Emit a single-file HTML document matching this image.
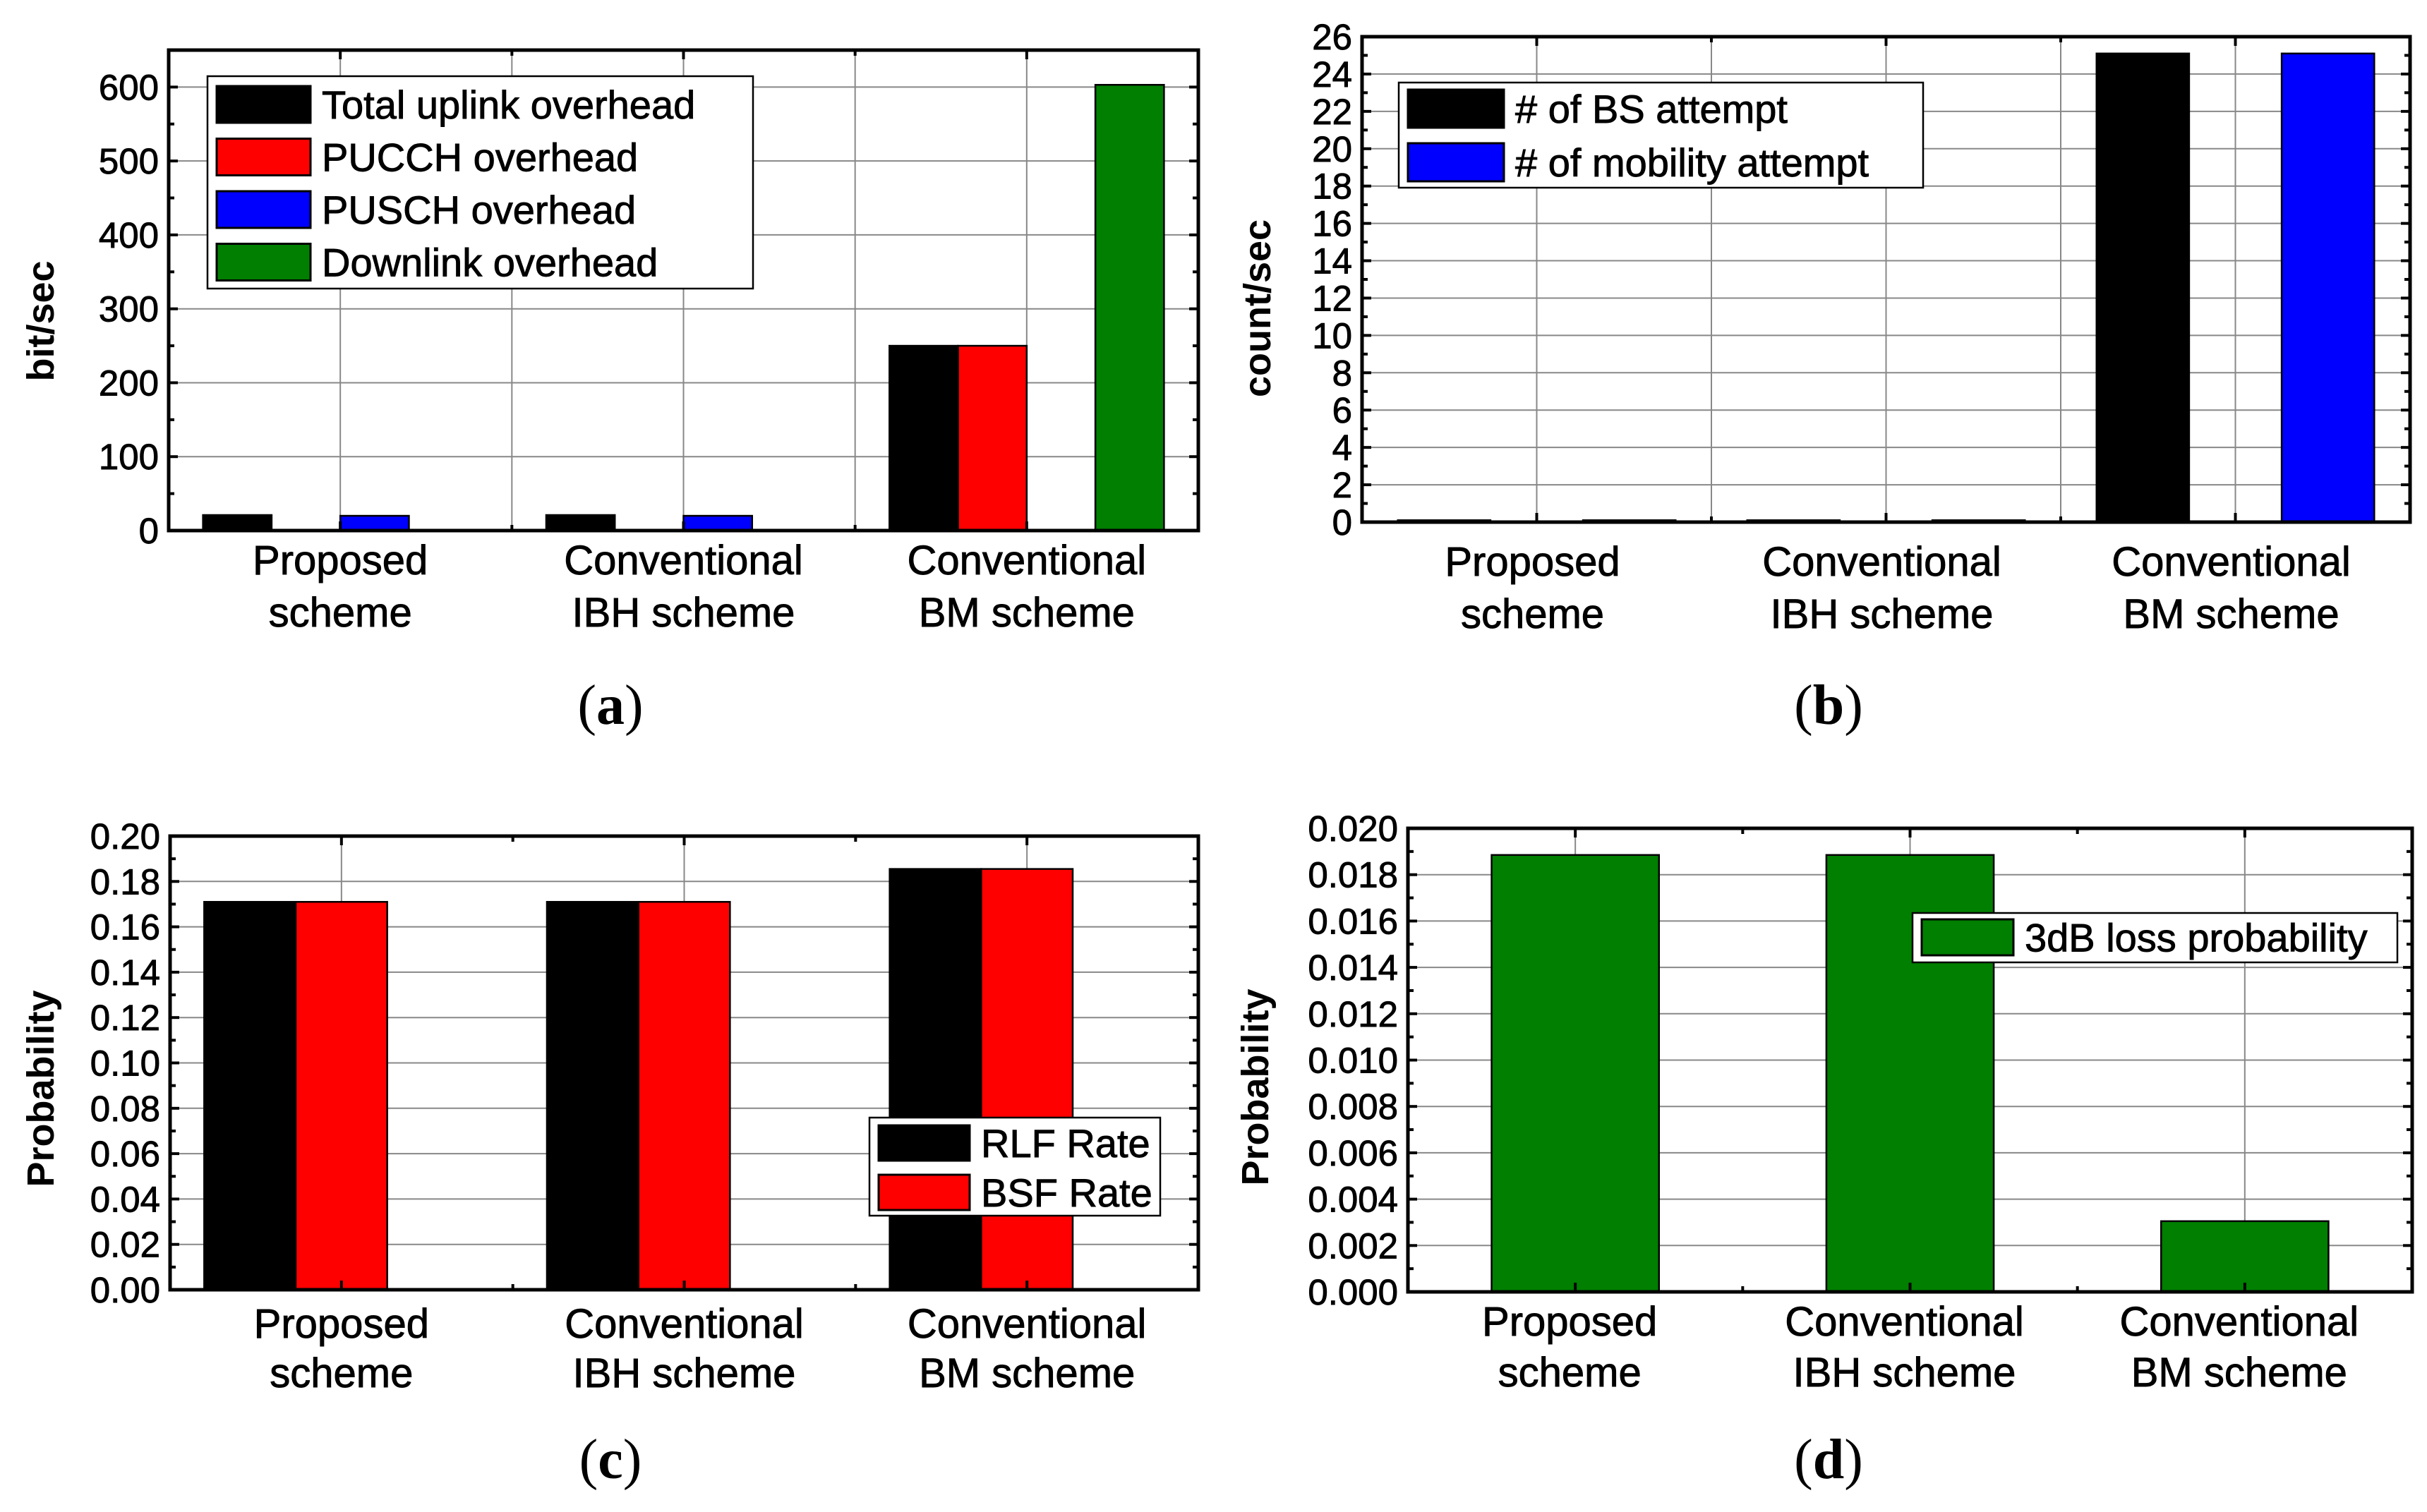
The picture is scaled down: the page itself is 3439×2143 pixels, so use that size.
<!DOCTYPE html>
<html><head><meta charset="utf-8">
<style>
html,body{margin:0;padding:0;background:#fff;}
svg{display:block;}
text{font-family:"Liberation Sans",sans-serif;}
.heavy{stroke:#000;stroke-width:0.9px;}
</style></head>
<body>
<svg id="fig" xmlns="http://www.w3.org/2000/svg" width="3439" height="2143" viewBox="0 0 3439 2143">
<rect x="0" y="0" width="3439" height="2143" fill="#fff"/>
</svg>
<script>
// ---------- data ----------
const categories = [["Proposed","scheme"],["Conventional","IBH scheme"],["Conventional","BM scheme"]];
// Panel (a) bit/sec
const aSeriesNames = ["Total uplink overhead","PUCCH overhead","PUSCH overhead","Downlink overhead"];
const aTotalUplink = [21, 21, 250];
const aPucch = [0, 0, 250];
const aPusch = [20, 20, 0];
const aDownlink = [1, 1, 603];
const aTicks = [0,100,200,300,400,500,600];
// Panel (b) count/sec
const bSeriesNames = ["# of BS attempt","# of mobility attempt"];
const bBsAttempt = [0.1, 0.1, 25.1];
const bMobilityAttempt = [0.1, 0.1, 25.1];
const bTicks = [0,2,4,6,8,10,12,14,16,18,20,22,24,26];
// Panel (c) probability
const cSeriesNames = ["RLF Rate","BSF Rate"];
const cRlf = [0.171, 0.171, 0.1855];
const cBsf = [0.171, 0.171, 0.1855];
const cTicks = ["0.00","0.02","0.04","0.06","0.08","0.10","0.12","0.14","0.16","0.18","0.20"];
// Panel (d) probability
const dSeriesNames = ["3dB loss probability"];
const d3dbLoss = [0.01885, 0.01885, 0.00305];
const dTicks = ["0.000","0.002","0.004","0.006","0.008","0.010","0.012","0.014","0.016","0.018","0.020"];

const NS = "http://www.w3.org/2000/svg";
const svg = document.getElementById('fig');
function mk(tag, attrs, parent){
  const e = document.createElementNS(NS, tag);
  for (const k in attrs) e.setAttribute(k, attrs[k]);
  (parent||svg).appendChild(e);
  return e;
}
function txt(s, attrs, parent){ const t = mk('text', attrs, parent); t.textContent = s; return t; }

function panel(cfg){
  const g = mk('g', {});
  
  
  const L=cfg.L, R=cfg.R, T=cfg.T, B=cfg.B;
  const ymax = cfg.ymax;
  const ys = v => B - (v/ymax)*(B-T);
  const cw = (R-L)/3;
  const xs = c => L + cw*(c+0.5);
  // grid
  const grid = mk('g', {stroke:'#888','stroke-width':2}, g);
  
  
  cfg.ticks.forEach(t => { const y = ys(+t); if (y>T+3 && y<B-3) mk('line',{x1:L,x2:R,y1:y,y2:y},grid); });
  const vx = cfg.gridX(xs, cw);
  vx.forEach(x => mk('line',{x1:x,x2:x,y1:T,y2:B},grid));
  // bars
  cfg.series.forEach((s, si) => {
    s.values.forEach((v, ci) => {
      const cx = xs(ci) + s.offset*cw;
      const w = s.width*cw;
      const y = ys(v);
      const r = mk('rect',{x:cx-w/2,y:y,width:w,height:Math.max(B-y,0.5),fill:s.color,stroke:'#000','stroke-width':2.5}, g);
      
      
    });
  });
  // axes frame
  const ax = mk('rect',{x:L,y:T,width:R-L,height:B-T,fill:'none',stroke:'#000','stroke-width':5}, g);
  
  
  // y ticks
  const tk = mk('g',{stroke:'#000','stroke-width':4}, g);
  
  
  const step = (+cfg.ticks[1]) - (+cfg.ticks[0]);
  cfg.ticks.forEach((t,i) => {
    const y = ys(+t);
    mk('line',{x1:L,x2:L+13,y1:y,y2:y},tk); mk('line',{x1:R,x2:R-13,y1:y,y2:y},tk);
    if (i < cfg.ticks.length-1){
      const ym = ys(+t + step/2);
      mk('line',{x1:L,x2:L+8,y1:ym,y2:ym},tk); mk('line',{x1:R,x2:R-8,y1:ym,y2:ym},tk);
    }
    const lb = txt(String(t), {x:L-14, y:y+18, 'text-anchor':'end', 'font-size':cfg.tickFont||51, fill:'#000', class:'heavy'}, g);
    
    
  });
  // x ticks
  for (let k=0;k<=6;k++){
    const x = L + cw*k/2;
    const len = (k%2===1)?13:8;
    mk('line',{x1:x,x2:x,y1:B,y2:B-len},tk); mk('line',{x1:x,x2:x,y1:T,y2:T+len},tk);
  }
  // category labels
  categories.forEach((c, ci) => {
    const x = xs(ci) + (cfg.catDx||0);
    const t1 = txt(c[0], {x:x, y:cfg.catY1, 'text-anchor':'middle','font-size':58, class:'heavy'}, g);
    
    
    const t2 = txt(c[1], {x:x, y:cfg.catY2, 'text-anchor':'middle','font-size':58, class:'heavy'}, g);
    
    
  });
  // y title
  const yt = txt(cfg.ytitle, {x:0,y:0,'text-anchor':'middle','font-size':54,'font-weight':'bold',
     transform:'translate('+cfg.ytX+','+cfg.ytY+') rotate(-90)'}, g);
  
  
  // legend
  const lg = mk('g',{}, g);
  
  
  const Lg = cfg.legend;
  mk('rect',{x:Lg.x,y:Lg.y,width:Lg.w,height:Lg.h,fill:'#fff',stroke:'#000','stroke-width':2.5}, lg);
  cfg.series.forEach((s, si) => {
    const ry = Lg.y + Lg.pad + si*Lg.row;
    const e = mk('g',{}, lg);
    
    
    mk('rect',{x:Lg.x+13,y:ry,width:Lg.sw,height:Lg.sh,fill:s.color,stroke:'#000','stroke-width':3}, e);
    txt(s.label, {x:Lg.x+13+Lg.sw+16, y:ry+Lg.sh/2+20, 'font-size':56, class:'heavy'}, e);
  });
  // panel label
  const pl = mk('text', {x:cfg.plX, y:cfg.plY, 'text-anchor':'middle','font-size':80,
     style:'font-family:"Liberation Serif",serif'}, g);
  
  
  const p1 = mk('tspan', {}, pl); p1.textContent = '(';
  const p2 = mk('tspan', {'font-weight':'bold'}, pl); p2.textContent = cfg.plabel;
  const p3 = mk('tspan', {}, pl); p3.textContent = ')';
}

// Panel a
panel({name:'chart-a', L:239, R:1698, T:71, B:752, ymax:650, ticks:aTicks,
  gridX:(xs,cw)=>[xs(0),xs(0)+cw/2,xs(1),xs(1)+cw/2,xs(2)],
  series:[
    {key:'total-uplink',label:aSeriesNames[0],values:aTotalUplink,color:'#000',offset:-0.3,width:0.2},
    {key:'pucch',label:aSeriesNames[1],values:aPucch,color:'#f00',offset:-0.1,width:0.2},
    {key:'pusch',label:aSeriesNames[2],values:aPusch,color:'#00f',offset:0.1,width:0.2},
    {key:'downlink',label:aSeriesNames[3],values:aDownlink,color:'#007f00',offset:0.3,width:0.2}],
  catY1:814, catY2:888, ytitle:'bit/sec', ytX:76, ytY:455,
  legend:{x:294,y:108,w:773,h:301,pad:14,row:74.5,sw:133,sh:52},
  plabel:'a', plX:865, plY:1026});
// Panel b
panel({name:'chart-b', L:1930, R:3415, T:52, B:740, ymax:26, ticks:bTicks,
  gridX:(xs,cw)=>[xs(0),xs(0)+cw/2,xs(1),xs(1)+cw/2,xs(2)],
  series:[
    {key:'bs-attempt',label:bSeriesNames[0],values:bBsAttempt,color:'#000',offset:-0.265,width:0.265},
    {key:'mobility-attempt',label:bSeriesNames[1],values:bMobilityAttempt,color:'#00f',offset:0.265,width:0.265}],
  catY1:816, catY2:890, catDx:-6, ytitle:'count/sec', ytX:1800, ytY:437,
  legend:{x:1982,y:117,w:743,h:149,pad:10,row:76,sw:136,sh:54},
  plabel:'b', plX:2591, plY:1026});
// Panel c
panel({name:'chart-c', L:241, R:1698, T:1185, B:1828, ymax:0.2, ticks:cTicks,
  gridX:(xs,cw)=>[xs(0),xs(1),xs(2)],
  series:[
    {key:'rlf',label:cSeriesNames[0],values:cRlf,color:'#000',offset:-0.267,width:0.267},
    {key:'bsf',label:cSeriesNames[1],values:cBsf,color:'#f00',offset:0,width:0.267}],
  catY1:1896, catY2:1966, ytitle:'Probability', ytX:76, ytY:1543,
  legend:{x:1232,y:1584,w:412,h:139,pad:11,row:70,sw:129,sh:50},
  plabel:'c', plX:865, plY:2095});
// Panel d
panel({name:'chart-d', L:1995, R:3418, T:1174, B:1831, ymax:0.02, ticks:dTicks,
  gridX:(xs,cw)=>[xs(0),xs(1),xs(2)],
  series:[
    {key:'3db-loss',label:dSeriesNames[0],values:d3dbLoss,color:'#007f00',offset:0,width:0.5}],
  catY1:1893, catY2:1965, catDx:-8, ytitle:'Probability', ytX:1797, ytY:1541,
  legend:{x:2710,y:1294,w:687,h:70,pad:9,row:70,sw:130,sh:51},
  plabel:'d', plX:2591, plY:2095});
</script>
</body></html>
